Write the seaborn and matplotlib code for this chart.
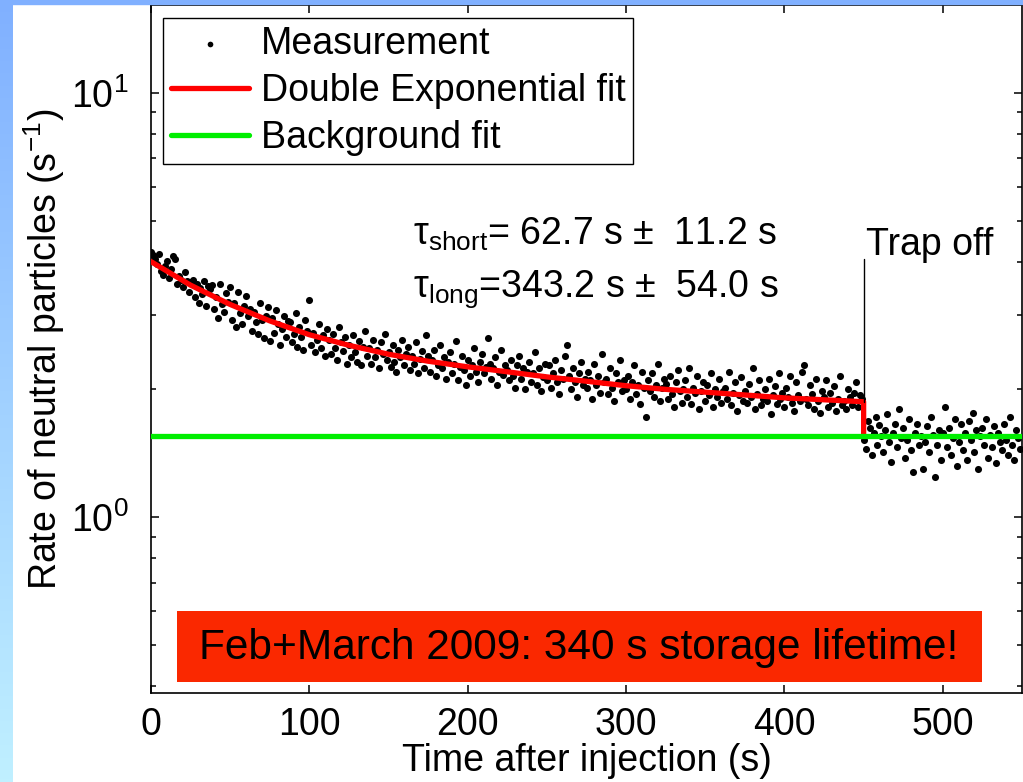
import numpy as np
import pandas as pd
import matplotlib
matplotlib.use("Agg")
import matplotlib.pyplot as plt
from matplotlib.patches import Rectangle
from matplotlib.ticker import LogLocator, NullFormatter, MultipleLocator
import seaborn as sns

# measured rate (1/s), one bin every 1.25 s from t = 0 to 548.75 s
rate = [
    4.22, 4.15, 4.05, 3.95, 4.18, 3.80, 3.72, 3.90, 4.02, 3.65,
    3.85, 4.12, 4.05, 3.55, 3.70, 3.62, 3.48, 3.78, 3.60, 3.40,
    3.58, 3.62, 3.30, 3.55, 3.20, 3.47, 3.36, 3.60, 3.15, 3.50,
    3.45, 3.52, 3.10, 3.30, 2.95, 3.55, 3.18, 3.05, 3.38, 3.22,
    3.48, 2.92, 3.20, 2.80, 3.40, 3.02, 2.85, 3.15, 3.32, 2.98,
    3.10, 2.75, 3.05, 2.88, 2.70, 3.20, 2.92, 2.64, 2.98, 3.12,
    2.60, 2.95, 2.72, 3.08, 2.85, 2.55, 2.78, 2.98, 2.66, 2.90,
    2.88, 2.58, 2.70, 3.02, 2.52, 2.80, 2.65, 2.48, 2.92, 2.75,
    3.25, 2.55, 2.72, 2.45, 2.62, 2.85, 2.50, 2.68, 2.40, 2.78,
    2.62, 2.42, 2.70, 2.50, 2.35, 2.80, 2.58, 2.46, 2.66, 2.30,
    2.55, 2.38, 2.68, 2.45, 2.32, 2.60, 2.28, 2.52, 2.75, 2.40,
    2.50, 2.30, 2.62, 2.38, 2.48, 2.25, 2.58, 2.42, 2.70, 2.34,
    2.45, 2.26, 2.55, 2.32, 2.20, 2.48, 2.38, 2.62, 2.28, 2.42,
    2.52, 2.22, 2.40, 2.30, 2.58, 2.18, 2.36, 2.46, 2.25, 2.68,
    2.40, 2.20, 2.34, 2.48, 2.15, 2.28, 2.55, 2.24, 2.38, 2.12,
    2.32, 2.45, 2.18, 2.30, 2.60, 2.10, 2.26, 2.40, 2.22, 2.05,
    2.35, 2.15, 2.28, 2.50, 2.20, 2.08, 2.32, 2.42, 2.18, 2.26,
    2.64, 2.30, 2.12, 2.24, 2.38, 2.05, 2.20, 2.48, 2.16, 2.28,
    2.22, 2.10, 2.35, 2.15, 2.02, 2.28, 2.40, 2.12, 2.25, 2.00,
    2.20, 2.32, 2.08, 2.18, 2.45, 2.05, 2.25, 1.98, 2.14, 2.30,
    2.10, 2.28, 2.02, 2.18, 2.35, 2.08, 1.95, 2.22, 2.12, 2.40,
    2.55, 2.15, 2.00, 2.25, 2.08, 1.92, 2.18, 2.32, 2.05, 2.12,
    2.02, 2.20, 2.10, 1.90, 2.30, 2.05, 2.15, 1.96, 2.42, 2.08,
    2.12, 1.95, 2.25, 2.02, 1.88, 2.18, 2.08, 2.35, 1.98, 2.10,
    2.00, 2.15, 1.90, 2.08, 2.28, 1.95, 2.05, 1.85, 2.20, 2.02,
    1.72, 2.10, 1.98, 2.18, 1.92, 2.05, 2.30, 1.88, 2.02, 2.12,
    2.06, 1.90, 2.15, 1.95, 1.82, 2.08, 2.22, 1.98, 1.86, 2.00,
    2.10, 1.92, 2.25, 1.85, 2.02, 1.96, 2.15, 1.80, 1.98, 2.08,
    1.88, 2.05, 1.94, 2.18, 1.82, 2.00, 1.92, 2.12, 1.86, 1.98,
    2.02, 1.90, 2.20, 1.84, 1.96, 2.08, 1.78, 1.94, 2.14, 1.88,
    1.98, 1.86, 2.06, 1.92, 2.25, 1.80, 1.95, 2.10, 1.84, 1.90,
    2.00, 1.88, 2.12, 1.75, 1.94, 2.04, 1.85, 2.18, 1.90, 1.96,
    1.82, 2.02, 1.92, 2.15, 1.86, 1.78, 2.08, 1.94, 1.88, 2.20,
    2.28, 1.90, 1.84, 2.05, 1.95, 1.80, 2.12, 1.88, 1.76, 1.98,
    1.92, 2.10, 1.82, 1.96, 1.86, 2.04, 1.78, 1.90, 2.15, 1.84,
    1.88, 1.80, 2.00, 1.92, 1.84, 1.96, 2.08, 1.82, 1.94, 1.90,
    1.52, 1.45, 1.68, 1.62, 1.40, 1.58, 1.72, 1.48, 1.65, 1.55,
    1.42, 1.60, 1.75, 1.50, 1.35, 1.58, 1.66, 1.46, 1.80, 1.54,
    1.62, 1.38, 1.52, 1.70, 1.44, 1.28, 1.58, 1.66, 1.48, 1.55,
    1.30, 1.50, 1.64, 1.42, 1.72, 1.56, 1.24, 1.48, 1.60, 1.36,
    1.58, 1.82, 1.46, 1.62, 1.40, 1.54, 1.70, 1.32, 1.50, 1.66,
    1.44, 1.58, 1.36, 1.68, 1.52, 1.76, 1.42, 1.60, 1.30, 1.55,
    1.62, 1.48, 1.70, 1.38, 1.56, 1.46, 1.64, 1.34, 1.58, 1.50,
    1.44, 1.66, 1.52, 1.40, 1.72, 1.48, 1.36, 1.60, 1.54, 1.45,
]
time = np.arange(len(rate)) * 1.25

# double exponential fit
fit_t = [0, 25, 50, 75, 100, 125, 150, 175, 200, 225, 250, 275, 300,
         325, 350, 375, 400, 425, 450, 450]
fit_rate = [4.00, 3.52, 3.17, 2.90, 2.69, 2.54, 2.42, 2.33, 2.26, 2.20,
            2.14, 2.09, 2.04, 2.00, 1.97, 1.94, 1.91, 1.89, 1.87, 1.55]

bg_t = [0, 550]
bg_rate = [1.55, 1.55]

trap_off_t = 450
trap_line = [1.87, 4.05]

df = pd.DataFrame({"time": time, "rate": rate})

sns.set_style("ticks")
plt.rcParams["font.family"] = ["Liberation Sans", "DejaVu Sans"]
plt.rcParams["mathtext.fontset"] = "custom"
plt.rcParams["mathtext.rm"] = "Liberation Sans"
plt.rcParams["mathtext.it"] = "Liberation Sans:italic"
plt.rcParams["mathtext.default"] = "regular"
for key in ["text.color", "axes.labelcolor", "xtick.color", "ytick.color"]:
    plt.rcParams[key] = "black"

fig = plt.figure(figsize=(10.23, 7.82), dpi=100)
fig.patch.set_facecolor("white")

# slide decoration: gradient strip on the left, blue strip on top
strip = fig.add_axes([0, 0, 13 / 1023, 1])
grad = np.linspace(0, 1, 256)[:, None]
top_c = np.array([128, 176, 255]) / 255
bot_c = np.array([192, 240, 255]) / 255
img = top_c[None, None, :] * (1 - grad[..., None]) + bot_c[None, None, :] * grad[..., None]
strip.imshow(img, aspect="auto", extent=[0, 1, 0, 1])
strip.axis("off")
fig.patches.append(Rectangle((0, 1 - 4 / 782), 1, 4 / 782, transform=fig.transFigure,
                             color="#80b0ff", zorder=0))

ax = fig.add_axes([151 / 1023, 1 - 693 / 782, 871 / 1023, 688 / 782])

sns.scatterplot(data=df, x="time", y="rate", color="black", s=26, linewidth=0,
                label="Measurement", ax=ax, zorder=2)
sns.lineplot(x=fit_t, y=fit_rate, color="#ff0000", lw=3.8, estimator=None, sort=False,
             label="Double Exponential fit", ax=ax, zorder=3)
sns.lineplot(x=bg_t, y=bg_rate, color="#00ee00", lw=3.8, estimator=None, sort=False,
             label="Background fit", ax=ax, zorder=3)
ax.plot([trap_off_t, trap_off_t], trap_line, color="black", lw=1.0, zorder=4)

ax.set_yscale("log")
ax.set_xlim(0, 550)
ax.set_ylim(0.385, 16.1)
ax.xaxis.set_major_locator(MultipleLocator(100))
ax.yaxis.set_major_locator(LogLocator(base=10))
ax.yaxis.set_minor_locator(LogLocator(base=10, subs=np.arange(2, 10)))
ax.yaxis.set_minor_formatter(NullFormatter())
ax.tick_params(which="both", direction="in", top=True, right=True, width=1.1)
ax.tick_params(which="major", length=6, labelsize=27)
ax.tick_params(axis="x", which="major", pad=10)
ax.tick_params(axis="y", which="major", pad=16)
ax.tick_params(which="minor", length=3.5)
for sp in ax.spines.values():
    sp.set_linewidth(1.2)
    sp.set_color("black")

ax.set_xlabel("Time after injection (s)", fontsize=27, labelpad=0)
ax.set_ylabel("Rate of neutral particles (s$^{-1}$)", fontsize=27, labelpad=3)

ax.text(0.301, 0.651, "τ$_{short}$= 62.7 s ±  11.2 s", transform=ax.transAxes,
        fontsize=27, ha="left", va="baseline")
ax.text(0.301, 0.576, "τ$_{long}$=343.2 s ±  54.0 s", transform=ax.transAxes,
        fontsize=27, ha="left", va="baseline")
ax.text(0.821, 0.636, "Trap off", transform=ax.transAxes, fontsize=27,
        ha="left", va="baseline")

ax.add_patch(Rectangle((0.0299, 0.016), 0.924, 0.103, transform=ax.transAxes,
                       facecolor="#fa2800", edgecolor="none", zorder=5))
ax.text(0.4914, 0.066, "Feb+March 2009: 340 s storage lifetime!", transform=ax.transAxes,
        fontsize=30.5, ha="center", va="center", zorder=6)

leg = ax.legend(loc="upper left", bbox_to_anchor=(0.0138, 0.981), borderaxespad=0,
                fontsize=27, frameon=True, fancybox=False, handlelength=2.1,
                handletextpad=0.3, borderpad=0.2, labelspacing=0.3, markerscale=0.8)
leg.get_frame().set_edgecolor("black")
leg.get_frame().set_linewidth(1.0)
leg.get_frame().set_alpha(1)

fig.savefig("out.png", dpi=100)
